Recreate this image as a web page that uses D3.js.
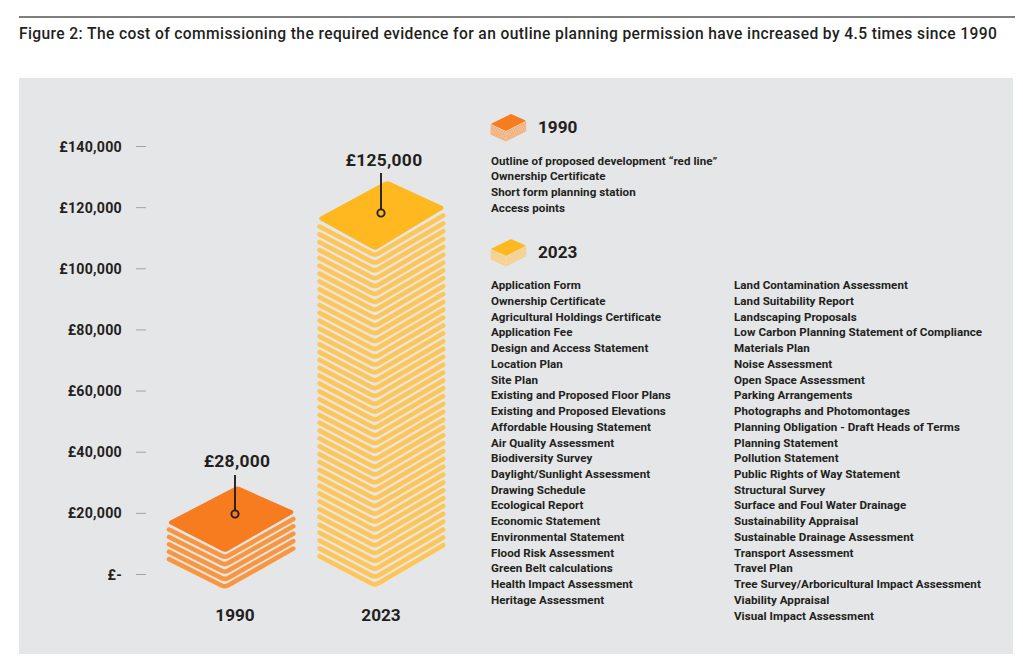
<!DOCTYPE html>
<html>
<head>
<meta charset="utf-8">
<script src="https://cdn.jsdelivr.net/npm/d3@7/dist/d3.min.js"></script>
<style>
html,body{margin:0;padding:0;background:#fff;}
svg{display:block;}
text{font-family:Roboto,sans-serif;fill:#231f20;}
</style>
</head>
<body>
<svg id="c" width="1023" height="663"></svg>
<script>
const titleText = "Figure 2: The cost of commissioning the required evidence for an outline planning permission have increased by 4.5 times since 1990";
const years = ["1990","2023"];
const costs = [28000,125000];
const costLabels = ["£28,000","£125,000"];
const stackTops = [28800,128700];
const layerCounts = [5,43];
const plateColors = ["#f77b1f","#ffb81f"];
const layerColors = ["#f99640","#ffc655"];
const tickValues = [0,20000,40000,60000,80000,100000,120000,140000];
const tickLabels = ["£-","£20,000","£40,000","£60,000","£80,000","£100,000","£120,000","£140,000"];
const list1990 = ["Outline of proposed development “red line”","Ownership Certificate","Short form planning station","Access points"];
const list2023a = ["Application Form","Ownership Certificate","Agricultural Holdings Certificate","Application Fee","Design and Access Statement","Location Plan","Site Plan","Existing and Proposed Floor Plans","Existing and Proposed Elevations","Affordable Housing Statement","Air Quality Assessment","Biodiversity Survey","Daylight/Sunlight Assessment","Drawing Schedule","Ecological Report","Economic Statement","Environmental Statement","Flood Risk Assessment","Green Belt calculations","Health Impact Assessment","Heritage Assessment"];
const list2023b = ["Land Contamination Assessment","Land Suitability Report","Landscaping Proposals","Low Carbon Planning Statement of Compliance","Materials Plan","Noise Assessment","Open Space Assessment","Parking Arrangements","Photographs and Photomontages","Planning Obligation - Draft Heads of Terms","Planning Statement","Pollution Statement","Public Rights of Way Statement","Structural Survey","Surface and Foul Water Drainage","Sustainability Appraisal","Sustainable Drainage Assessment","Transport Assessment","Travel Plan","Tree Survey/Arboricultural Impact Assessment","Viability Appraisal","Visual Impact Assessment"];

const svg = d3.select("#c");
const ink = "#231f20";

svg.append("line").attr("x1",19).attr("x2",1015).attr("y1",17).attr("y2",17).attr("stroke","#555").attr("stroke-width",1.3);
svg.append("text").attr("x",19).attr("y",38.5).attr("font-size",15.6).attr("font-weight",500).attr("letter-spacing",0.385).attr("fill",ink).text(titleText);
svg.append("rect").attr("x",19).attr("y",78).attr("width",994).attr("height",576).attr("fill","#e5e6e8");

const y = d3.scaleLinear().domain([0,140000]).range([574,146]);
const x = d3.scalePoint().domain(years).range([231,381]);

const axis = d3.axisLeft(y).tickValues(tickValues).tickSize(10).tickPadding(14)
  .tickFormat((d,i)=>tickLabels[i]);
const axisG = svg.append("g").attr("transform","translate(146,0)").call(axis);
axisG.select(".domain").remove();
axisG.selectAll("line").attr("stroke","#a3a3a3").attr("stroke-width",1);
axisG.selectAll("text").attr("font-size",14.2).attr("font-weight",700).attr("letter-spacing",0.25).attr("dy","0.36em").attr("fill",ink).style("font-family","Roboto,sans-serif");

function roundedPlate(pts,radii){
  const p = d3.path();
  const n = pts.length;
  const s = [(pts[n-1][0]+pts[0][0])/2,(pts[n-1][1]+pts[0][1])/2];
  p.moveTo(s[0],s[1]);
  pts.forEach((q,i)=>{ const nx=pts[(i+1)%n]; p.arcTo(q[0],q[1],nx[0],nx[1],radii[i]); });
  p.closePath();
  return p.toString();
}
function vee(l,b,rt,r){
  const p = d3.path();
  p.moveTo(l[0],l[1]);
  p.arcTo(b[0],b[1],rt[0],rt[1],r);
  p.lineTo(rt[0],rt[1]);
  return p.toString();
}
function stack(parent,tipX,tipY,geo,n,s){
  const g = parent.append("g");
  const L=[tipX+geo.l[0],tipY+geo.l[1]], T=[tipX,tipY], R=[tipX+geo.r[0],tipY+geo.r[1]], B=[tipX+geo.b[0],tipY+geo.b[1]];
  const inset = s.sw*0.55;
  g.selectAll("path.layer").data(d3.range(n-1,-1,-1)).join("path").attr("class","layer")
    .attr("d",k=>vee([L[0]+inset,L[1]+s.edge+k*s.gap],[B[0],B[1]+s.tip+k*s.gap],[R[0]-inset,R[1]+s.edge+k*s.gap],s.rVee))
    .attr("fill","none").attr("stroke",s.layerCol).attr("stroke-width",s.sw).attr("stroke-linecap","round");
  g.append("path").attr("d",roundedPlate([L,T,R,B],[s.rSide,s.rTip,s.rSide,s.rTip])).attr("fill",s.plateCol);
}
const geos = [
  {l:[-70.5,36.6],r:[58.8,26],b:[-12,66.6]},
  {l:[-70,38],r:[58.8,27],b:[-12,70]}
];
const tipOffset = 6;
const gaps = [7.4,7.85];
const edgeOffsets = [7,8];
years.forEach((yr,i)=>{
  stack(svg,x(yr)+tipOffset,y(stackTops[i]),geos[i],layerCounts[i],{
    gap:gaps[i],edge:edgeOffsets[i],tip:5,sw:4.6,rVee:7,rSide:2,rTip:6,
    plateCol:plateColors[i],layerCol:layerColors[i]});
});

// leaders and labels
const leaderDx=[4,0], leaderTop=[475,173], leaderEnd=[514,213], labelDx=[6,3], labelBase=[467,166];
years.forEach((yr,i)=>{
  const lx = x(yr)+leaderDx[i];
  svg.append("line").attr("x1",lx).attr("x2",lx).attr("y1",leaderTop[i]).attr("y2",leaderEnd[i]-3.6).attr("stroke",ink).attr("stroke-width",1.9);
  svg.append("circle").attr("cx",lx).attr("cy",leaderEnd[i]).attr("r",3.6).attr("fill","none").attr("stroke",ink).attr("stroke-width",1.9);
  svg.append("text").attr("x",x(yr)+labelDx[i]).attr("y",labelBase[i]).attr("text-anchor","middle").attr("font-size",17.4).attr("font-weight",700).attr("letter-spacing",0.3).attr("fill",ink).text(costLabels[i]);
  svg.append("text").attr("x",x(yr)+(i==0?4:0)).attr("y",621).attr("text-anchor","middle").attr("font-size",17.2).attr("font-weight",700).attr("fill",ink).text(yr);
});

// legend icons
const iconGeo = {l:[-20.5,10],r:[15.3,6.7],b:[-5,17]};
[[511,114],[511,239]].forEach((c,i)=>{
  stack(svg,c[0],c[1],iconGeo,8,{gap:1.25,edge:1.4,tip:1.2,sw:0.75,rVee:1,rSide:0.6,rTip:1.5,
    plateCol:plateColors[i],layerCol:layerColors[i]});
});
[133,258].forEach((by,i)=>{
  svg.append("text").attr("x",538).attr("y",by).attr("font-size",17.2).attr("font-weight",700).attr("fill",ink).text(years[i]);
});

function list(items,lx,firstBase){
  svg.append("g").selectAll("text").data(items).join("text")
    .attr("x",lx).attr("y",(d,i)=>firstBase+i*15.74)
    .attr("font-size",11.6).attr("font-weight",700).attr("letter-spacing",0.05).attr("fill",ink).text(d=>d);
}
list(list1990,491,164.5);
list(list2023a,491,289.1);
list(list2023b,734,289.1);
</script>
</body>
</html>
